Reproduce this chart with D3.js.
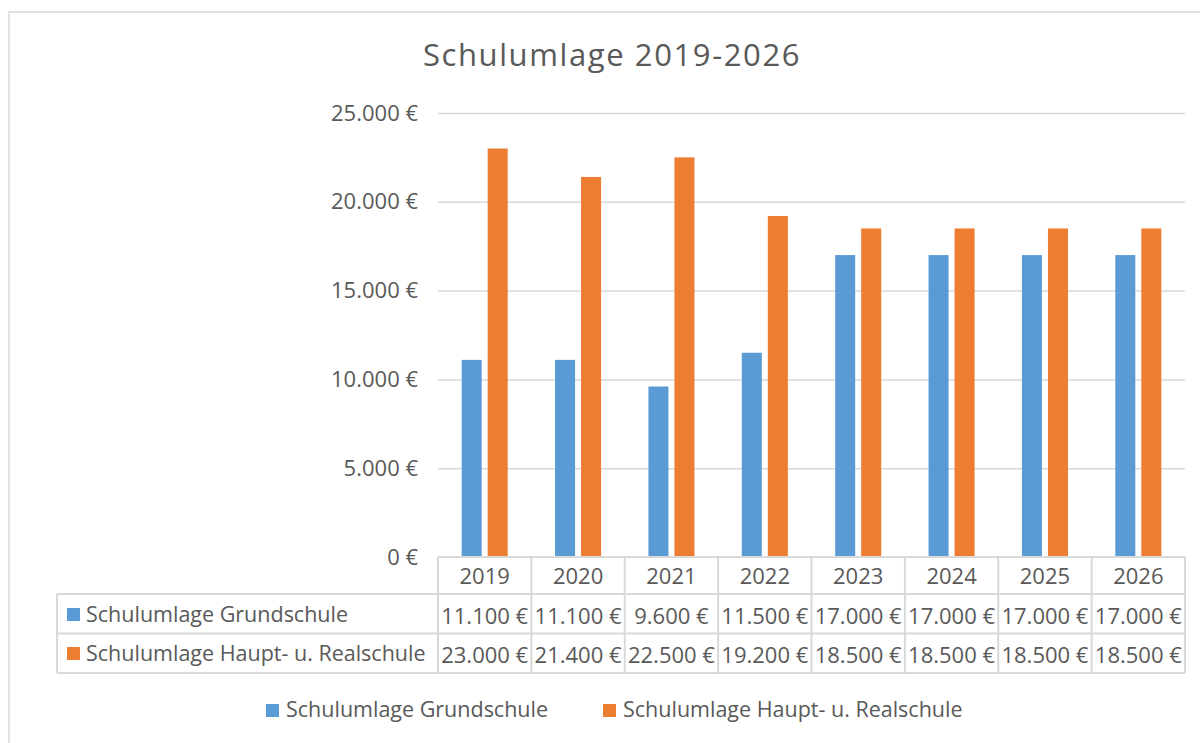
<!DOCTYPE html>
<html lang="de">
  <head>
    <meta charset="UTF-8" />
    <title>Schulumlage 2019-2026</title>
    <style>
      body { margin: 0; background: #fff; }
      svg { display: block; font-family: "Open Sans", sans-serif; }
      text { fill: #595959; }
    </style>
  </head>
  <body>
    <svg width="1200" height="743"></svg>
    <script src="https://d3js.org/d3.v7.min.js"></script>
    <script>
      const years = ["2019", "2020", "2021", "2022", "2023", "2024", "2025", "2026"];
      const seriesNames = ["Schulumlage Grundschule", "Schulumlage Haupt- u. Realschule"];
      const grundschule = [11100, 11100, 9600, 11500, 17000, 17000, 17000, 17000];
      const hauptReal = [23000, 21400, 22500, 19200, 18500, 18500, 18500, 18500];
      const colors = ["#5B9BD5", "#ED7D31"];
      const yTicks = [0, 5000, 10000, 15000, 20000, 25000];

      const values = [grundschule, hauptReal];
      const svg = d3.select("svg");
      const grid = "#D9D9D9";

      const de = d3.formatLocale({ decimal: ",", thousands: ".", grouping: [3], currency: ["", " €"] });
      const euro = (v) => de.format(",.0f")(v) + " €";

      // chart frame
      svg.append("rect")
        .attr("x", 9).attr("y", 12)
        .attr("width", 1250).attr("height", 800)
        .attr("fill", "none").attr("stroke", grid).attr("stroke-width", 1.5);

      svg.append("text")
        .attr("x", 612).attr("y", 66)
        .attr("text-anchor", "middle")
        .attr("font-size", 31)
        .attr("letter-spacing", 1.6)
        .text("Schulumlage 2019-2026");

      const x0 = d3.scaleBand().domain(years).range([438, 1185]);
      const x1 = d3.scaleBand().domain(d3.range(2))
        .range([0, x0.bandwidth()]).paddingInner(0.23).paddingOuter(0.91);
      const y = d3.scaleLinear().domain([0, 25000]).range([557, 113]);

      // gridlines + y labels
      const yAxis = svg.append("g")
        .attr("transform", "translate(438,0)")
        .call(d3.axisLeft(y).tickValues(yTicks).tickFormat(euro)
          .tickSize(-(1185 - 438)).tickPadding(20));
      yAxis.select(".domain").remove();
      yAxis.selectAll(".tick line").attr("stroke", grid).attr("stroke-width", 1.5);
      yAxis.selectAll(".tick text")
        .attr("font-size", 22).attr("font-family", "Open Sans").attr("fill", "#595959");
      yAxis.selectAll(".tick").filter((d) => d === 0).select("line").remove();

      // bars
      values.forEach((vals, s) => {
        svg.append("g").selectAll("rect")
          .data(vals)
          .join("rect")
          .attr("x", (d, i) => x0(years[i]) + x1(s))
          .attr("width", x1.bandwidth())
          .attr("y", (d) => y(d))
          .attr("height", (d) => y(0) - y(d))
          .attr("fill", colors[s]);
      });

      // data table
      const rowY = [557, 594, 633.5, 673];
      const tableLeft = 57;
      const lines = svg.append("g").attr("stroke", grid).attr("stroke-width", 2).attr("fill", "none");
      lines.append("line").attr("x1", 438).attr("x2", 1185).attr("y1", rowY[0]).attr("y2", rowY[0]);
      rowY.slice(1).forEach((ry) => {
        lines.append("line").attr("x1", tableLeft).attr("x2", 1185).attr("y1", ry).attr("y2", ry);
      });
      lines.append("line").attr("x1", tableLeft).attr("x2", tableLeft).attr("y1", rowY[1]).attr("y2", rowY[3]);
      years.forEach((yr) => {
        lines.append("line").attr("x1", x0(yr)).attr("x2", x0(yr)).attr("y1", rowY[0]).attr("y2", rowY[3]);
      });
      lines.append("line").attr("x1", 1185).attr("x2", 1185).attr("y1", rowY[0]).attr("y2", rowY[3]);

      const cells = svg.append("g").attr("font-size", 22).attr("text-anchor", "middle");
      years.forEach((yr, i) => {
        const cx = x0(yr) + x0.bandwidth() / 2;
        cells.append("text").attr("x", cx).attr("y", 584).text(yr);
        cells.append("text").attr("x", cx).attr("y", 624).text(euro(grundschule[i]));
        cells.append("text").attr("x", cx).attr("y", 663).text(euro(hauptReal[i]));
      });

      const rowLabelBase = [622, 661];
      seriesNames.forEach((name, s) => {
        svg.append("rect")
          .attr("x", 67).attr("y", rowLabelBase[s] - 14)
          .attr("width", 13).attr("height", 13).attr("fill", colors[s]);
        svg.append("text")
          .attr("x", 86).attr("y", rowLabelBase[s])
          .attr("font-size", 21.5)
          .text(name);
      });

      // legend
      const legendX = [266, 603];
      seriesNames.forEach((name, s) => {
        svg.append("rect")
          .attr("x", legendX[s]).attr("y", 704)
          .attr("width", 13).attr("height", 13).attr("fill", colors[s]);
        svg.append("text")
          .attr("x", legendX[s] + 20).attr("y", 717)
          .attr("font-size", 21.5)
          .text(name);
      });
    </script>
  </body>
</html>
